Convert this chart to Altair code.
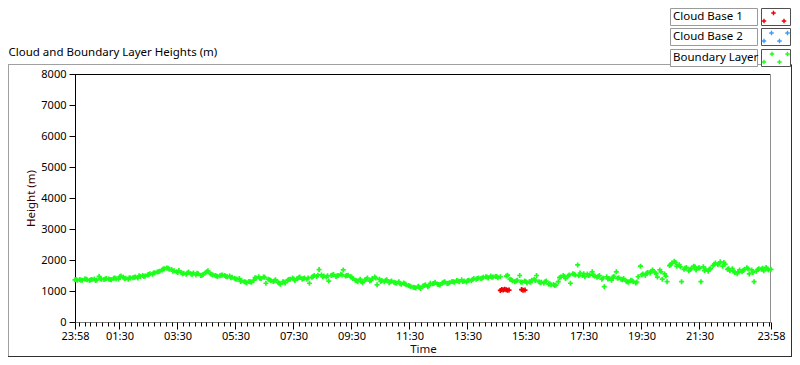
import altair as alt
import pandas as pd

# ---------------- data ----------------
START = pd.Timestamp("2024-01-01 23:58:00")

# Boundary layer height (m), one value every 5 minutes from 23:58, one row per hour
boundary_main = [
    [1360, 1345, 1375, 1350, 1385, 1365, 1340, 1370, 1390, 1355, 1470, 1380],
    [1375, 1400, 1390, 1360, 1410, 1395, 1385, 1480, 1450, 1410, 1380, 1420],
    [1430, 1455, 1420, 1470, 1500, 1480, 1520, 1560, 1540, 1590, 1610, 1640],
    [1680, 1720, 1745, 1700, 1690, 1650, 1620, 1660, 1600, 1570, 1540, 1610],
    [1550, 1580, 1520, 1560, 1500, 1530, 1590, 1650, 1560, 1520, 1500, 1470],
    [1490, 1520, 1500, 1460, 1480, 1440, 1410, 1380, 1400, 1330, 1300, 1270],
    [1310, 1280, 1350, 1420, 1460, 1400, 1450, 1250, 1380, 1340, 1310, 1360],
    [1280, 1220, 1300, 1260, 1350, 1380, 1420, 1340, 1400, 1450, 1380, 1420],
    [1380, 1250, 1440, 1500, 1470, 1690, 1520, 1480, 1450, 1320, 1500, 1530],
    [1470, 1500, 1540, 1680, 1480, 1510, 1460, 1400, 1350, 1300, 1380, 1270],
    [1360, 1420, 1320, 1400, 1450, 1200, 1380, 1340, 1300, 1360, 1270, 1320],
    [1280, 1250, 1300, 1220, 1260, 1200, 1180, 1140, 1120, 1100, 1150, 1080],
    [1160, 1200, 1140, 1250, 1230, 1280, 1220, 1190, 1260, 1300, 1240, 1270],
    [1310, 1280, 1340, 1300, 1360, 1320, 1290, 1350, 1330, 1400, 1380, 1420],
    [1400, 1440, 1460, 1420, 1480, 1450, 1470, 1430, 1460, None, None, 1510],
    [1380, 1330, 1300, 1350, 1500, 1280, 1320, 1260, 1300, 1350, 1380, 1500],
    [1300, 1280, 1250, 1320, 1220, 1200, 1210, 1190, 1300, 1450, 1500, 1400],
    [1480, 1250, 1560, 1520, 1840, 1580, 1500, 1460, 1550, 1520, 1620, 1480],
    [1440, 1500, 1380, 1140, 1460, 1400, 1350, 1470, 1620, 1430, 1380, 1400],
    [1320, 1280, 1350, 1300, 1260, 1460, 1800, 1550, 1500, 1600, 1580, 1680],
    [1600, 1450, 1680, 1380, 1550, 1300, 1820, 1900, 1960, 1800, 1850, 1300],
    [1700, 1760, 1650, 1720, 1800, 1680, 1750, 1300, 1780, 1700, 1640, 1720],
    [1820, 1900, 1850, 1940, 1800, 1870, 1700, 1650, 1720, 1600, 1560, 1680],
    [1620, 1700, 1750, 1550, 1680, 1300, 1640, 1720, 1700, 1650, 1760, 1680],
    [1700],
]

# extra boundary samples, every 10 minutes starting 2.5 min after each hour mark
boundary_extra = [
    [1370, 1350, 1385, 1360, 1340, 1395],
    [1390, 1370, 1420, 1460, 1400, 1430],
    [1440, 1490, 1470, 1530, 1580, 1620],
    [1710, 1730, 1640, 1600, 1560, 1580],
    [1540, 1570, 1510, 1620, 1540, 1480],
    [1510, 1470, 1430, 1390, 1310, 1290],
    [1300, 1430, 1410, 1440, 1360, 1330],
    [1250, 1290, 1370, 1390, 1430, 1400],
    [1420, 1470, 1510, 1460, 1490, 1520],
    [1490, 1520, 1500, 1450, 1330, 1310],
    [1380, 1350, 1420, 1310, 1340, 1300],
    [1270, 1240, 1230, 1160, 1110, 1120],
    [1180, 1170, 1240, 1210, 1280, 1250],
    [1300, 1320, 1310, 1340, 1370, 1400],
    [1420, 1450, 1440, 1470, None, 1480],
    [1360, 1320, 1290, 1310, 1280, 1340],
    [1270, 1300, 1230, 1180, 1430, 1470],
    [1520, 1540, 1490, 1560, 1500, 1510],
    [1470, 1420, 1390, 1440, 1410, 1360],
    [1300, 1330, 1290, 1520, 1570, 1640],
    [1560, 1620, 1480, 1850, 1920, 1780],
    [1730, 1690, 1780, 1740, 1660, 1700],
    [1860, 1880, 1920, 1720, 1640, 1620],
    [1660, 1720, 1600, 1690, 1730, 1710],
]

# Cloud base 1 (m): minutes after 23:58 and heights
cb1_minutes = [880, 883, 886, 889, 892, 895, 898, 924, 927, 931]
cb1_heights = [1020, 1045, 1035, 1055, 1040, 1025, 1030, 1045, 1025, 1030]

y_ticks = [0, 1000, 2000, 3000, 4000, 5000, 6000, 7000, 8000]
x_tick_hours = ["01:30", "03:30", "05:30", "07:30", "09:30", "11:30",
                "13:30", "15:30", "17:30", "19:30", "21:30"]

legend_names = ["Cloud Base 1", "Cloud Base 2", "Boundary Layer"]
legend_colors = ["#f00000", "#3a9cff", "#1cff1c"]
TITLE = "Cloud and Boundary Layer Heights (m)"

# ---------------- build tables ----------------
def iso(ts):
    return ts.strftime("%Y-%m-%dT%H:%M:%S")

rows = []
k = 0
for row in boundary_main:
    for v in row:
        if v is not None:
            rows.append({"t": iso(START + pd.Timedelta(minutes=5 * k)), "h": v})
        k += 1
k = 0
for row in boundary_extra:
    for v in row:
        if v is not None:
            rows.append({"t": iso(START + pd.Timedelta(minutes=2.5 + 10 * k)), "h": v})
        k += 1
df_bl = pd.DataFrame(rows)
df_cb1 = pd.DataFrame({
    "t": [iso(START + pd.Timedelta(minutes=m)) for m in cb1_minutes],
    "h": cb1_heights,
})


def dt(ts):
    return alt.DateTime(year=ts.year, month=ts.month, date=ts.day,
                        hours=ts.hour, minutes=ts.minute)


END = START + pd.Timedelta(hours=24)
major_vals = [dt(START)] + [dt(pd.Timestamp("2024-01-02 " + h)) for h in x_tick_hours] + [dt(END)]
minor_ts = pd.date_range("2024-01-02 00:06", "2024-01-02 23:54", freq="12min")
minor_vals = [dt(t) for t in minor_ts]

FONT = "Noto Sans"
W, H = 696, 248
CROSS = "M-1,0H1M0,-1V1"

xscale = alt.Scale(domain=[dt(START), dt(END)], nice=False)
yscale = alt.Scale(domain=[0, 8000], nice=False, zero=True)
yaxis = alt.Axis(values=y_ticks, format="d", title="Height (m)", titleColor="#3a0000",
                 tickSize=6, labelPadding=3, titlePadding=4, domainColor="#000",
                 tickColor="#000", grid=False)

green = alt.Chart(df_bl).mark_point(shape=CROSS, size=25, filled=False, strokeWidth=1.7,
                                    color=legend_colors[2], opacity=1).encode(
    x=alt.X("t:T", scale=xscale,
            axis=alt.Axis(orient="bottom", values=major_vals, format="%H:%M", title="Time",
                          titleColor="#1a0a1a", tickSize=7, labelPadding=1, titlePadding=2,
                          domainColor="#808080", tickColor="#000", labelOverlap=False,
                          labelBound=False, labelFlush=False, grid=False)),
    y=alt.Y("h:Q", scale=yscale, axis=yaxis),
)

red = alt.Chart(df_cb1).mark_point(shape=CROSS, size=25, filled=False, strokeWidth=1.7,
                                   color=legend_colors[0], opacity=1).encode(
    x=alt.X("t:T", scale=xscale,
            axis=alt.Axis(orient="bottom", values=minor_vals, labels=False, domain=False,
                          tickSize=4, tickColor="#000", title=None, grid=False)),
    y=alt.Y("h:Q", scale=yscale, axis=yaxis),
)

one = pd.DataFrame({"a": [0]})


def rule(x1, y1, x2, y2, color, width=1):
    return alt.Chart(one).mark_rule(color=color, strokeWidth=width).encode(
        x=alt.value(x1), y=alt.value(y1), x2=alt.value(x2), y2=alt.value(y2))


def box(x1, y1, x2, y2, stroke):
    return alt.Chart(one).mark_rect(fill="white", stroke=stroke, strokeWidth=1).encode(
        x=alt.value(x1), y=alt.value(y1), x2=alt.value(x2), y2=alt.value(y2))


def label(x, y, text, color="#000", size=11.5):
    return alt.Chart(one).mark_text(text=text, align="left", baseline="middle",
                                    font=FONT, fontSize=size, color=color).encode(
        x=alt.value(x), y=alt.value(y))


def marker(x, y, color):
    return alt.Chart(one).mark_point(shape=CROSS, size=20, filled=False, strokeWidth=1.4,
                                     color=color, opacity=1).encode(
        x=alt.value(x), y=alt.value(y))


# svg is 784 x 349; plot origin at svg (67, 66)
FR_R, FR_B = 716.5, 282.5
layers = [
    # outer panel frame
    rule(-67, -9.5, FR_R, -9.5, "#a0a0a0"),
    rule(-66.5, -9.5, -66.5, FR_B, "#a0a0a0"),
    rule(-67, FR_B, FR_R + 0.5, FR_B, "#303030"),
    rule(FR_R, -9.5, FR_R, FR_B, "#303030"),
    # plot frame (top, right)
    rule(0, 0.5, W, 0.5, "#000"),
    rule(W - 0.5, 0, W - 0.5, H, "#909090"),
    green,
    red,
    label(-66.5, -21, TITLE),
]

row_tops = [-65.5, -45.5, -24.5]
mark_offsets = [
    [(12, 4.5), (2.5, 12.5), (22.5, 12.5)],
    [(10, 4.5), (26, 4.5), (2.5, 12.5), (18, 12.5)],
    [(10.5, 4.5), (26, 4.5), (2.5, 12.5), (18, 12.5)],
]
TB_L, TB_R, MB_L, MB_R = 595.5, 682.5, 686.5, 715.5
for name, col, top, offs in zip(legend_names, legend_colors, row_tops, mark_offsets):
    layers.append(box(TB_L, top, TB_R, top + 17, "#9a9a9a"))
    layers.append(box(MB_L, top, MB_R, top + 17, "#505050"))
    layers.append(label(TB_L + 2.5, top + 8.5, name))
    for dx, dy in offs:
        layers.append(marker(MB_L + dx, top + dy, col))

chart = alt.layer(*layers).resolve_axis(x="independent", y="shared").properties(
    width=W, height=H,
    autosize=alt.AutoSizeParams(type="none"),
    padding={"left": 67, "top": 66, "right": 21, "bottom": 35},
    background="white",
).configure_view(strokeWidth=0).configure_axis(
    labelFont=FONT, titleFont=FONT, labelFontSize=11, titleFontSize=11.5,
    titleFontWeight="normal", labelColor="#000",
)

chart.save("out.html", embed_options={"renderer": "svg", "actions": False})
